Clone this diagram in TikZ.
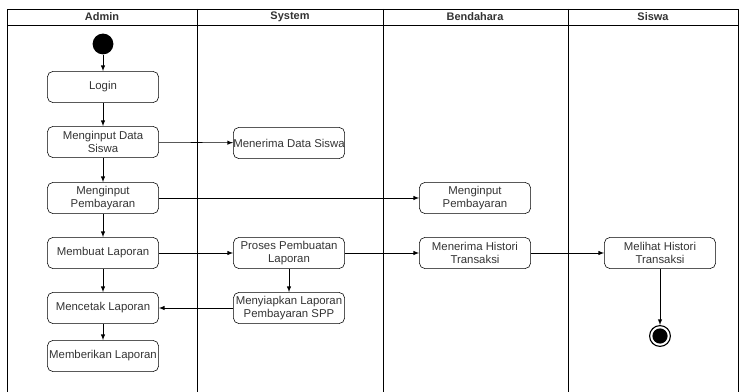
\documentclass[tikz,border=0pt]{standalone}
\usepackage{fontspec}
\setmainfont{Liberation Sans}
\usepackage{xcolor}
\usepackage{tikz}
\usetikzlibrary{shapes,arrows}
\definecolor{teks}{HTML}{333333}

\begin{document}
\begin{tikzpicture}[x=0.025cm, y=-0.025cm, >=latex,
    aksi/.style={rectangle, rounded corners=4pt, draw = black, text = teks, minimum width = 2.78cm, minimum height = 0.78cm, align = center, inner xsep = 0pt, inner ysep = 1pt, font=\fontsize{8.1}{9.2}\selectfont},
    judul/.style={font=\fontsize{7.8}{9}\selectfont\bfseries, text = teks}]
    	\useasboundingbox (0,0) rectangle (741,392);
    	% lajur
    	\draw (7,392) -- (7,9) -- (738,9) -- (738,392);
    	\draw (7,25) -- (738,25);
    	\draw (197,9) -- (197,392);
    	\draw (383,9) -- (383,392);
    	\draw (568,9) -- (568,392);
    	\node (ha)[judul] at (102,17) {Admin};
    	\node (hs)[judul] at (290,17) {System};
    	\node (hb)[judul] at (475,17) {Bendahara};
    	\node (hw)[judul] at (653,17) {Siswa};
    	
    	\node (s)[circle, fill = black, minimum size = 0.52cm, inner sep = 0pt] at (103,44) {};
    	\node (lg)[aksi] at (103,87) {Login};
    	\node (ids)[aksi] at (103,142) {Menginput Data\\Siswa};
    	\node (ip)[aksi] at (103,198) {Menginput\\Pembayaran};
    	\node (ml)[aksi] at (103,253) {Membuat Laporan};
    	\node (cl)[aksi] at (103,308) {Mencetak Laporan};
    	\node (bl)[aksi] at (103,356) {Memberikan Laporan};
    	
    	\node (mds)[aksi] at (289,143) {Menerima Data Siswa};
    	\node (pl)[aksi] at (289,253) {Proses Pembuatan\\Laporan};
    	\node (sl)[aksi] at (289,308) {Menyiapkan Laporan\\Pembayaran SPP};
    	
    	\node (bp)[aksi] at (475,198) {Menginput\\Pembayaran};
    	\node (mh)[aksi] at (475,253) {Menerima Histori\\Transaksi};
    	
    	\node (lh)[aksi] at (660,253) {Melihat Histori\\Transaksi};
    	\node (e)[circle, draw = black, line width = 0.8pt, minimum size = 0.52cm, inner sep = 0pt] at (660,336) {};
    	\fill (e.center) circle (0.19cm);
    	
    	\draw[->] (s) -- (lg);
    	\draw[->] (lg) -- (ids);
    	\draw[->] (ids) -- (ip);
    	\draw[->] (ip) -- (ml);
    	\draw[->] (ml) -- (cl);
    	\draw[->] (cl) -- (bl);
    	\draw[->] (ids) -- (mds);
    	\draw[->] (ip) -- (bp);
    	\draw[->] (ml) -- (pl);
    	\draw[->] (pl) -- (sl);
    	\draw[->] (sl) -- (cl);
    	\draw[->] (pl) -- (mh);
    	\draw[->] (mh) -- (lh);
    	\draw[->] (lh) -- (e);
    	
\end{tikzpicture}
\end{document}
